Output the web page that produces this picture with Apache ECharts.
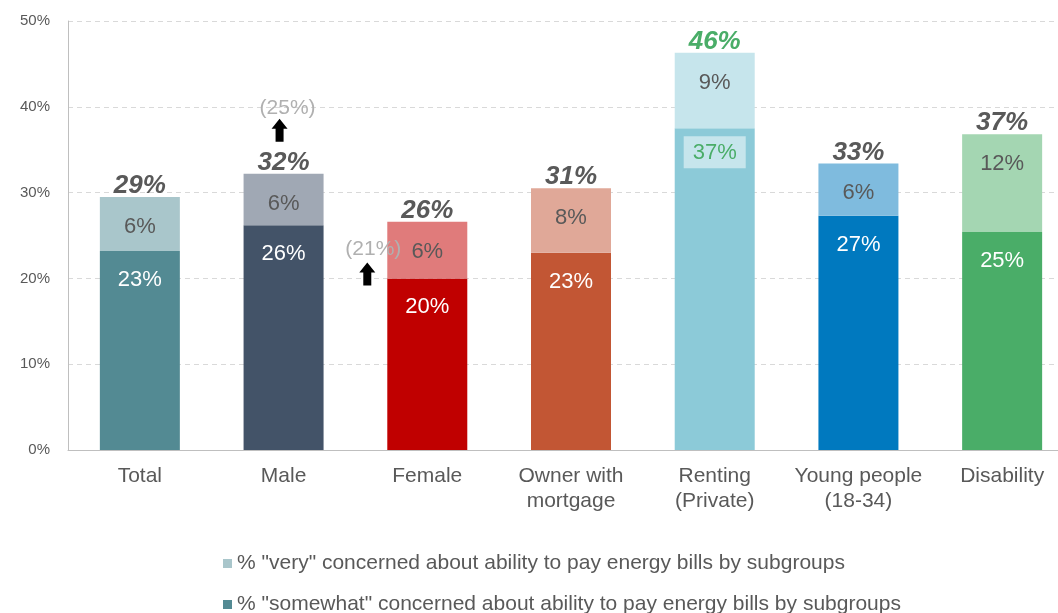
<!DOCTYPE html>
<html>
<head>
<meta charset="utf-8">
<script src="https://cdn.jsdelivr.net/npm/echarts@6/dist/echarts.min.js"></script>
<style>
  html, body { margin: 0; padding: 0; background: #fff; overflow: hidden; }
  /* plot area runs past the right edge of the picture, as in the original crop */
  #chart { width: 1074px; height: 613px; }
</style>
</head>
<body>
<div id="chart"></div>
<script>
  // subgroups
  var categories = ['Total', 'Male', 'Female', 'Owner with\nmortgage', 'Renting\n(Private)', 'Young people\n(18-34)', 'Disability']
  // bar heights
  var somewhatValues = [23.2, 26.2, 20.0, 23.0, 37.5, 27.3, 25.4]
  var veryValues = [6.3, 6.0, 6.6, 7.5, 8.8, 6.1, 11.4]
  // printed labels
  var somewhatLabels = ['23%', '26%', '20%', '23%', '37%', '27%', '25%']
  var veryLabels = ['6%', '6%', '6%', '8%', '9%', '6%', '12%']
  var totalLabels = ['29%', '32%', '26%', '31%', '46%', '33%', '37%']
  var somewhatColors = ['#538a93', '#435368', '#c00000', '#c25634', '#8ccad8', '#0079bf', '#4aad68']
  var veryColors = ['#a9c6cb', '#a0a8b4', '#e07b7b', '#e0a898', '#c6e5ec', '#7fbbde', '#a4d6b2']
  var yTicks = [0, 10, 20, 30, 40, 50]

  var veryName = '% "very" concerned about ability to pay energy bills by subgroups'
  var somewhatName = '% "somewhat" concerned about ability to pay energy bills by subgroups'

  var font = 'Liberation Sans, Arial, sans-serif'
  var myChart = echarts.init(document.getElementById('chart'))

  var somewhatData = somewhatValues.map(function (v, i) {
    var item = { value: v, itemStyle: { color: somewhatColors[i] } }
    if (i === 4) {
      // renting label sits in a light box, green text
      item.label = { color: '#4aad68', backgroundColor: '#c6e5ec', padding: [6, 9, 4, 9], distance: 8 }
    }
    return item
  })
  var veryData = veryValues.map(function (v, i) {
    return { value: v, itemStyle: { color: veryColors[i] } }
  })
  var totalData = totalLabels.map(function (t, i) {
    var item = { value: 0 }
    if (i === 4) item.label = { color: '#4aad68' }
    return item
  })

  var legendText = { fontSize: 21, color: '#595959', fontFamily: font }
  myChart.setOption({
    animation: false,
    textStyle: { fontFamily: font },
    grid: { left: 68, top: 21, bottom: 163, right: 0 },
    legend: [
      {
        data: [{ name: veryName, itemStyle: { color: '#a9c6cb' } }],
        left: 218, top: 548, itemWidth: 9, itemHeight: 9, icon: 'rect', itemGap: 6,
        textStyle: legendText
      },
      {
        data: [{ name: somewhatName, itemStyle: { color: '#538a93' } }],
        left: 218, top: 589, itemWidth: 9, itemHeight: 9, icon: 'rect', itemGap: 6,
        textStyle: legendText
      }
    ],
    xAxis: {
      type: 'category',
      data: categories,
      axisLine: { lineStyle: { color: '#bfbfbf' } },
      axisTick: { show: false },
      axisLabel: { interval: 0, fontSize: 21, color: '#595959', lineHeight: 25, margin: 14 }
    },
    yAxis: {
      type: 'value',
      min: yTicks[0],
      max: yTicks[yTicks.length - 1],
      interval: 10,
      axisLine: { show: true, lineStyle: { color: '#bfbfbf' } },
      axisLabel: { fontSize: 15, color: '#595959', margin: 18, formatter: '{value}%' },
      splitLine: { lineStyle: { color: '#d9d9d9', type: [5, 4] } }
    },
    series: [
      {
        name: somewhatName,
        type: 'bar',
        stack: 'a',
        barWidth: 80,
        data: somewhatData,
        label: {
          show: true,
          position: 'insideTop',
          distance: 18,
          fontSize: 22,
          color: '#ffffff',
          formatter: function (p) { return somewhatLabels[p.dataIndex] }
        }
      },
      {
        name: veryName,
        type: 'bar',
        stack: 'a',
        barWidth: 80,
        data: veryData,
        label: {
          show: true,
          position: 'insideTop',
          distance: 19,
          fontSize: 22,
          color: '#595959',
          formatter: function (p) { return veryLabels[p.dataIndex] }
        }
      },
      {
        name: 'total',
        type: 'bar',
        stack: 'a',
        barWidth: 80,
        data: totalData,
        itemStyle: { color: 'transparent' },
        label: {
          show: true,
          position: 'top',
          distance: -2,
          fontSize: 26,
          fontWeight: 'bold',
          fontStyle: 'italic',
          color: '#595959',
          formatter: function (p) { return totalLabels[p.dataIndex] }
        }
      }
    ]
  })

  // annotations: earlier figures with up arrows
  function arrow(x, y) {
    return [[x, y + 10], [x + 8, y], [x + 16, y + 10], [x + 12, y + 10], [x + 12, y + 23], [x + 4, y + 23], [x + 4, y + 10]]
  }
  var maleAt = myChart.convertToPixel({ gridIndex: 0 }, ['Male', 40])
  var femaleAt = myChart.convertToPixel({ gridIndex: 0 }, ['Female', 20])
  myChart.setOption({
    graphic: [
      { type: 'text', z: 100, x: maleAt[0] + 4, y: maleAt[1] + 1, style: { text: '(25%)', fill: '#b0b0b0', font: '21px ' + font, align: 'center', verticalAlign: 'middle' } },
      { type: 'polygon', z: 100, shape: { points: arrow(maleAt[0] - 12, maleAt[1] + 12) }, style: { fill: '#000' } },
      { type: 'text', z: 100, x: femaleAt[0] - 54, y: femaleAt[1] - 29, style: { text: '(21%)', fill: '#b0b0b0', font: '21px ' + font, align: 'center', verticalAlign: 'middle' } },
      { type: 'polygon', z: 100, shape: { points: arrow(femaleAt[0] - 68, femaleAt[1] - 16) }, style: { fill: '#000' } }
    ]
  })
</script>
</body>
</html>
